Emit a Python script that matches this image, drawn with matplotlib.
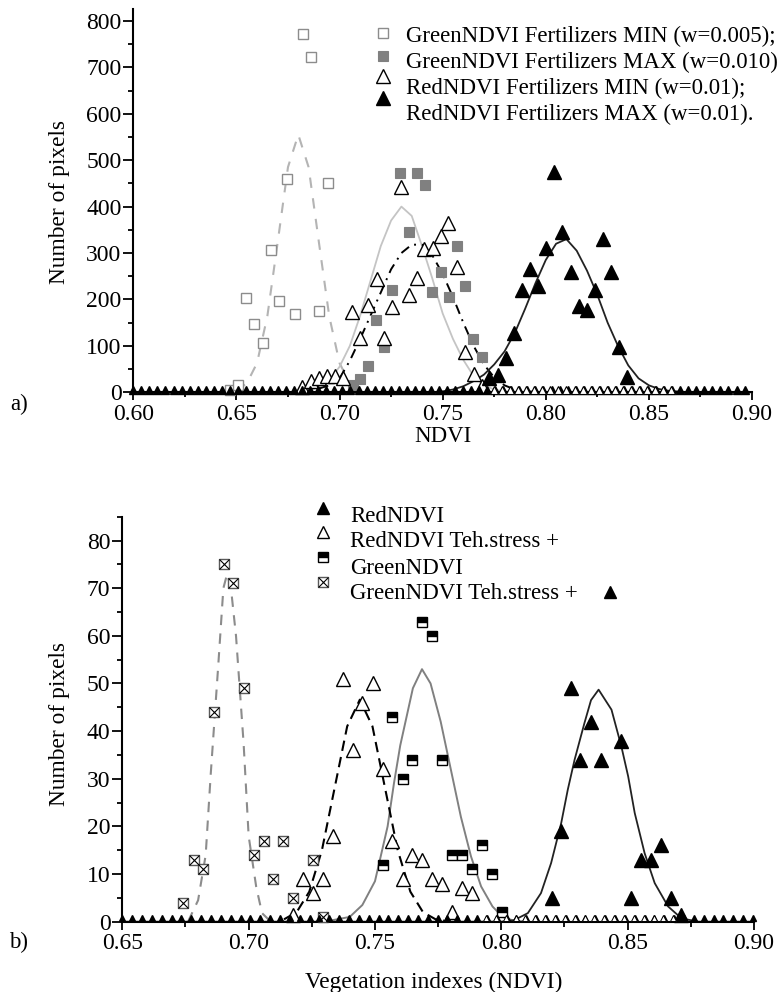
import matplotlib

matplotlib.use("Agg")
import matplotlib.pyplot as plt
import numpy as np
from matplotlib.lines import Line2D
from matplotlib.ticker import FormatStrFormatter, MultipleLocator

plt.rcParams["font.family"] = ["Liberation Serif", "DejaVu Serif"]
plt.rcParams["font.size"] = 16.5

W, H = 783, 992

# ---- a) Fertilizers ----
GREEN_MIN_X = [0.6469, 0.6508, 0.6547, 0.6587, 0.6628, 0.6666, 0.6705, 0.6744, 0.6784, 0.6823, 0.6862, 0.6902, 0.6943]
GREEN_MIN_Y = [5, 16, 203, 147, 106, 307, 197, 459, 169, 772, 723, 176, 450]
GREEN_MIN_FIT_X = [0.650, 0.655, 0.660, 0.665, 0.670, 0.675, 0.680, 0.685, 0.690, 0.695, 0.700, 0.705, 0.710]
GREEN_MIN_FIT_Y = [4, 19, 63, 164, 323, 485, 555, 485, 323, 164, 63, 19, 4]

GREEN_MAX_X = [0.7064, 0.7098, 0.7137, 0.7176, 0.7215, 0.7256, 0.7294, 0.7336, 0.7375, 0.7412, 0.7450,
               0.7491, 0.7531, 0.7570, 0.7610, 0.7648, 0.7690]
GREEN_MAX_Y = [16, 28, 57, 156, 98, 220, 473, 345, 472, 446, 215, 260, 205, 316, 229, 114, 75]
GREEN_MAX_FIT_X = [0.680, 0.685, 0.690, 0.695, 0.700, 0.705, 0.710, 0.715, 0.720, 0.725, 0.730, 0.735,
                   0.740, 0.745, 0.750, 0.755, 0.760, 0.765, 0.770, 0.775, 0.780, 0.790]
GREEN_MAX_FIT_Y = [1, 4, 11, 26, 55, 100, 165, 240, 315, 370, 400, 380, 315, 245, 170, 115, 70, 35, 15, 6, 2, 0]

RED_MIN_X = [0.6820, 0.6860, 0.6900, 0.6938, 0.6978, 0.7019, 0.7061, 0.7100, 0.7140, 0.7180, 0.7216, 0.7256,
             0.7296, 0.7336, 0.7375, 0.7410, 0.7451, 0.7490, 0.7528, 0.7571, 0.7610, 0.7650, 0.7690]
RED_MIN_Y = [12, 24, 30, 35, 35, 31, 174, 116, 188, 243, 116, 184, 443, 210, 246, 308, 310, 337, 365, 269, 87, 39, 14]
RED_MIN_FIT_X = [0.690, 0.695, 0.700, 0.705, 0.710, 0.715, 0.720, 0.725, 0.730, 0.735, 0.740, 0.745, 0.750,
                 0.755, 0.760, 0.765, 0.770, 0.775, 0.780, 0.785, 0.790, 0.800]
RED_MIN_FIT_Y = [8, 15, 30, 68, 115, 165, 215, 265, 300, 318, 318, 295, 255, 205, 150, 100, 60, 32, 15, 6, 2, 0]

RED_MAX_X = [0.7727, 0.7766, 0.7805, 0.7845, 0.7884, 0.7923, 0.7961, 0.8000, 0.8040, 0.8080, 0.8120, 0.8159,
             0.8200, 0.8237, 0.8277, 0.8316, 0.8354, 0.8393]
RED_MAX_Y = [30, 37, 73, 128, 220, 265, 230, 310, 475, 345, 260, 186, 177, 220, 331, 259, 97, 32]
RED_MAX_FIT_X = [0.600, 0.745, 0.750, 0.755, 0.760, 0.765, 0.770, 0.775, 0.780, 0.785, 0.790, 0.795, 0.800,
                 0.805, 0.810, 0.815, 0.820, 0.825, 0.830, 0.835, 0.840, 0.845, 0.850, 0.855, 0.860, 0.870, 0.900]
RED_MAX_FIT_Y = [0, 0, 2, 6, 13, 24, 38, 60, 88, 128, 180, 235, 285, 320, 330, 305, 262, 210, 150, 100, 58,
                 30, 15, 7, 3, 0, 0]

# empty histogram bins drawn along the zero line
A_BINS = np.arange(0.600, 0.9001, 0.0039)
A_BASE = 6
A_OPEN_BINS = np.arange(0.7730, 0.8601, 0.0039)

A_LEGEND = ["GreenNDVI Fertilizers MIN (w=0.005);", "GreenNDVI Fertilizers MAX (w=0.010)",
            "RedNDVI Fertilizers MIN (w=0.01);", "RedNDVI Fertilizers MAX (w=0.01)."]

# ---- b) Technological stress ----
GT_X = [0.6742, 0.6782, 0.6821, 0.6861, 0.6901, 0.6940, 0.6980, 0.7020, 0.7060, 0.7097, 0.7136, 0.7176, 0.7254, 0.7294]
GT_Y = [4, 13, 11, 44, 75, 71, 49, 14, 17, 9, 17, 5, 13, 1]
GT_FIT_X = [0.676, 0.680, 0.683, 0.685, 0.688, 0.690, 0.6915, 0.693, 0.695, 0.698, 0.700, 0.703, 0.7053, 0.708, 0.712]
GT_FIT_Y = [0, 4.5, 14, 31, 54, 70, 73, 70, 60, 37.5, 18, 7.3, 1.8, 0.4, 0]

G_X = [0.7533, 0.7569, 0.7609, 0.7648, 0.7686, 0.7726, 0.7766, 0.7805, 0.7845, 0.7885, 0.7925, 0.7964, 0.8004]
G_Y = [12, 43, 30, 34, 63, 60, 34, 14, 14, 11, 16, 10, 2]
G_FIT_X = [0.730, 0.740, 0.745, 0.750, 0.755, 0.7575, 0.760, 0.765, 0.7686, 0.772, 0.776, 0.780, 0.784,
           0.788, 0.792, 0.7965, 0.8005, 0.805, 0.810]
G_FIT_Y = [0, 1, 3.5, 8.5, 20, 29, 37, 49, 53, 50, 42, 32, 22, 13.7, 7.4, 3.2, 1, 0.2, 0]

RT_X = [0.7176, 0.7216, 0.7254, 0.7294, 0.7333, 0.7372, 0.7413, 0.7450, 0.7491, 0.7531, 0.7569, 0.7609,
        0.7648, 0.7686, 0.7726, 0.7766, 0.7805, 0.7845, 0.7882]
RT_Y = [1.4, 9, 6, 9, 18, 51, 36, 46, 50, 32, 17, 9, 14, 13, 9, 8, 2, 7, 6]
RT_FIT_X = [0.714, 0.719, 0.724, 0.729, 0.734, 0.739, 0.744, 0.749, 0.754, 0.759, 0.764, 0.769, 0.774, 0.780]
RT_FIT_Y = [0.5, 2, 6.3, 15, 28, 41, 46.6, 41, 28, 15, 6.3, 2, 0.5, 0]

R_X = [0.8200, 0.8238, 0.8276, 0.8313, 0.8353, 0.8393, 0.8472, 0.8515, 0.8551, 0.8594, 0.8631, 0.8671, 0.8710]
R_Y = [5, 19, 49, 34, 42, 34, 38, 5, 13, 13, 16, 5, 1.4]
R_FIT_X = [0.650, 0.800, 0.805, 0.8105, 0.8157, 0.8197, 0.8237, 0.8263, 0.829, 0.8329, 0.8355, 0.8385, 0.8436,
           0.8475, 0.8502, 0.8528, 0.8567, 0.8607, 0.866, 0.8713, 0.878, 0.900]
R_FIT_Y = [0, 0, 0.3, 1.8, 6, 12.3, 20.7, 27.7, 34, 41.7, 46.5, 48.7, 44.5, 36.8, 30.5, 22.8, 14.4, 8.1, 3.2,
           0.7, 0, 0]

B_BINS = np.arange(0.650, 0.9001, 0.0039)
B_BASE = 0.7
B_OPEN_BINS = np.arange(0.7920, 0.8681, 0.0039)

B_LEGEND = ["RedNDVI", "RedNDVI Teh.stress +", "GreenNDVI", "GreenNDVI Teh.stress +"]


def fxy(x, y):
    """pixel position (from top-left) -> figure fraction"""
    return x / W, 1 - y / H


def style_axis(ax, xlim, ylim, ymajor, yminor):
    ax.set_xlim(*xlim)
    ax.set_ylim(*ylim)
    ax.spines[["top", "right"]].set_visible(False)
    ax.spines[["left", "bottom"]].set_linewidth(1.5)
    ax.xaxis.set_major_locator(MultipleLocator(0.05))
    ax.xaxis.set_minor_locator(MultipleLocator(0.025))
    ax.xaxis.set_major_formatter(FormatStrFormatter("%.2f"))
    ax.yaxis.set_major_locator(MultipleLocator(ymajor))
    ax.yaxis.set_minor_locator(MultipleLocator(yminor))
    ax.tick_params(which="major", direction="out", width=1.3, labelsize=17)
    ax.tick_params(axis="y", which="major", length=7, pad=1.5)
    ax.tick_params(axis="x", which="major", length=6, pad=2.2)
    ax.tick_params(which="minor", direction="out", length=3.5, width=1.3)


def marker(x, y, **kw):
    fx, fy = fxy(x, y)
    fig.add_artist(Line2D([fx], [fy], transform=fig.transFigure, linestyle="none", **kw))


fig = plt.figure(figsize=(W / 100, H / 100), dpi=100)

# ---------------- a) ----------------
ax = fig.add_axes([133.3 / W, 1 - 392.3 / H, (752 - 133.3) / W, (392.3 - 9.3) / H])
style_axis(ax, (0.60, 0.90), (0, 825), 100, 50)

open_sq = dict(marker="s", ms=7.2, mfc="white", mec="#8c8c8c", mew=1.0, ls="none")
grey_sq = dict(marker="s", ms=7.2, mfc="#808080", mec="#808080", mew=0.8, ls="none")
open_tri = dict(marker="^", ms=10, mfc="white", mec="black", mew=1.0, ls="none")
black_tri = dict(marker="^", ms=10, mfc="black", mec="black", mew=1.0, ls="none")

ax.plot(GREEN_MIN_FIT_X, GREEN_MIN_FIT_Y, color="#b4b4b4", lw=1.5, ls=(0, (5, 5)), zorder=2)
ax.plot(GREEN_MAX_FIT_X, GREEN_MAX_FIT_Y, color="#c4c4c4", lw=1.3, zorder=2)
ax.plot(RED_MIN_FIT_X, RED_MIN_FIT_Y, color="black", lw=1.4, ls=(0, (5, 3, 1, 3)), zorder=2)
ax.plot(RED_MAX_FIT_X, RED_MAX_FIT_Y, color="#222222", lw=1.3, zorder=2, clip_on=False)

ax.plot(GREEN_MIN_X, GREEN_MIN_Y, zorder=3, clip_on=False, **open_sq)
ax.plot(GREEN_MAX_X, GREEN_MAX_Y, zorder=3, clip_on=False, **grey_sq)
ax.plot(RED_MIN_X, RED_MIN_Y, zorder=4, clip_on=False, **open_tri)
ax.plot(RED_MAX_X, RED_MAX_Y, zorder=4, clip_on=False, **black_tri)
ax.plot(A_BINS, np.full(len(A_BINS), A_BASE), marker="^", ms=6, mfc="black", mec="black",
        ls="none", zorder=5, clip_on=False)
ax.plot(A_OPEN_BINS + 0.00195, np.full(len(A_OPEN_BINS), A_BASE), marker="^", ms=6, mfc="white",
        mec="black", mew=0.8, ls="none", zorder=5, clip_on=False)

for (px, py), style in zip([(382.5, 32.7), (382.5, 55.7), (382.5, 76), (382.5, 98.3)],
                           [open_sq, grey_sq, open_tri, black_tri]):
    st = {k: v for k, v in style.items() if k != "ls"}
    marker(px, py, **st)
for label, base in zip(A_LEGEND, [41.7, 68.3, 94.3, 120]):
    fig.text(*fxy(406, base), label, ha="left", va="baseline", fontsize=16.5)

fig.text(*fxy(443, 442), "NDVI", ha="center", va="baseline", fontsize=16.5)
fig.text(*fxy(59, 202), "Number of pixels", rotation=90, ha="center", va="center", fontsize=16.8)
fig.text(*fxy(19, 404), "a)", ha="center", va="center", fontsize=16.5)

# ---------------- b) ----------------
bx = fig.add_axes([122.3 / W, 1 - 921.7 / H, (754 - 122.3) / W, (921.7 - 516.7) / H])
style_axis(bx, (0.65, 0.90), (0, 85), 10, 5)

cross_sq = dict(marker="s", ms=7.8, mfc="white", mec="#5a5a5a", mew=1.0)
cross_x = dict(marker="x", ms=7.8, mec="black", mew=0.8)
half_sq = dict(marker="s", ms=7.8, fillstyle="top", mfc="black", mfcalt="white", mec="black", mew=1.0)
b_open_tri = dict(marker="^", ms=10, mfc="white", mec="black", mew=1.0)
b_black_tri = dict(marker="^", ms=10, mfc="black", mec="black", mew=1.0)

bx.plot(GT_FIT_X, GT_FIT_Y, color="#8c8c8c", lw=1.5, ls=(0, (5, 4)), zorder=2)
bx.plot(G_FIT_X, G_FIT_Y, color="#808080", lw=1.4, zorder=2)
bx.plot(RT_FIT_X, RT_FIT_Y, color="black", lw=1.5, ls=(0, (5, 3)), zorder=2)
bx.plot(R_FIT_X, R_FIT_Y, color="#222222", lw=1.3, zorder=2, clip_on=False)

bx.plot(GT_X, GT_Y, ls="none", zorder=3, clip_on=False, **cross_sq)
bx.plot(GT_X, GT_Y, ls="none", zorder=3, clip_on=False, **cross_x)
bx.plot(G_X, G_Y, ls="none", zorder=3, clip_on=False, **half_sq)
bx.plot(RT_X, RT_Y, ls="none", zorder=4, clip_on=False, **b_open_tri)
bx.plot(R_X, R_Y, ls="none", zorder=4, clip_on=False, **b_black_tri)
bx.plot(B_BINS, np.full(len(B_BINS), B_BASE), marker="^", ms=5, mfc="black", mec="black",
        ls="none", zorder=5, clip_on=False)
bx.plot(B_OPEN_BINS + 0.00195, np.full(len(B_OPEN_BINS), B_BASE), marker="^", ms=5, mfc="white",
        mec="black", mew=0.7, ls="none", zorder=5, clip_on=False)

leg_tri = dict(marker="^", ms=8, mec="black", mew=1.0)
marker(323.3, 507.7, mfc="black", **leg_tri)
marker(323.3, 531.7, mfc="white", **leg_tri)
marker(323.3, 557.3, **{**half_sq, "ms": 6.5})
marker(323.3, 582.3, **{**cross_sq, "ms": 6.5})
marker(323.3, 582.3, **{**cross_x, "ms": 6.5})
marker(610, 591.7, mfc="black", **leg_tri)
for label, base in zip(B_LEGEND, [521.7, 546.7, 574, 599]):
    fig.text(*fxy(350, base), label, ha="left", va="baseline", fontsize=16.5)

fig.text(*fxy(434, 988), "Vegetation indexes (NDVI)", ha="center", va="baseline", fontsize=16.8)
fig.text(*fxy(60, 724), "Number of pixels", rotation=90, ha="center", va="center", fontsize=16.8)
fig.text(*fxy(19, 942), "b)", ha="center", va="center", fontsize=16.5)

fig.savefig("out.png", dpi=100)
